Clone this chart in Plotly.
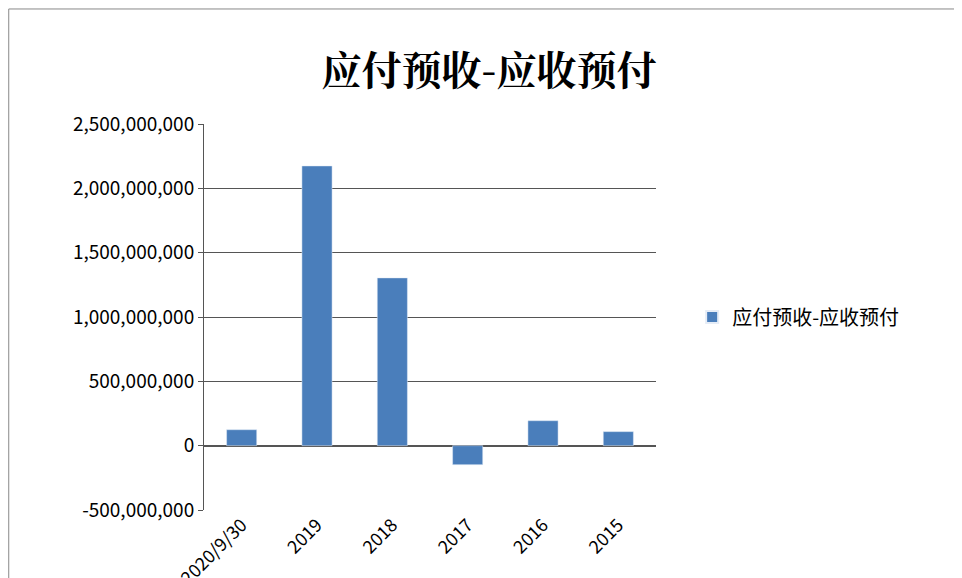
import plotly.graph_objects as go

# 数据
categories = ["2020/9/30", "2019", "2018", "2017", "2016", "2015"]
values = [124e6, 2174e6, 1304e6, -148e6, 194e6, 109e6]
tick_vals = [-500e6, 0, 500e6, 1000e6, 1500e6, 2000e6, 2500e6]
tick_text = ["-500,000,000", "0", "500,000,000", "1,000,000,000",
             "1,500,000,000", "2,000,000,000", "2,500,000,000"]

fig = go.Figure()
fig.add_trace(go.Bar(
    x=categories, y=values, name="应付预收-应收预付",
    marker_color="#4a7ebb", width=0.4, showlegend=True
))

fig.update_layout(
    width=962, height=578,
    paper_bgcolor="white", plot_bgcolor="white",
    margin=dict(l=196, r=314, t=116, b=76, autoexpand=False),
    title=dict(text="<b>应付预收-应收预付</b>", x=0.5, xanchor="center", y=0.915,
               font=dict(family="Noto Serif CJK SC, Noto Sans CJK SC", size=40, color="black")),
    font=dict(family="Noto Sans CJK SC", size=19, color="black"),
    legend=dict(x=1.08, y=0.5, yanchor="middle", font=dict(size=20),
                itemsizing="constant"),
    xaxis=dict(tickangle=-45, showline=False, ticks="", tickfont=dict(size=18),
               automargin=False),
    yaxis=dict(range=[-500e6, 2500e6], tickvals=tick_vals, ticktext=tick_text,
               showgrid=True, gridcolor="#555", gridwidth=1, automargin=False,
               showline=True, linecolor="#555", zeroline=True, zerolinecolor="#555",
               ticks="outside", ticklen=5, tickcolor="#555", tickfont=dict(size=19)),
    shapes=[dict(type="rect", xref="paper", yref="paper", x0=-0.432, x1=1.692,
                 y0=-0.193, y1=1.298, line=dict(color="#888", width=1))],
)

fig.write_html("out.html")
